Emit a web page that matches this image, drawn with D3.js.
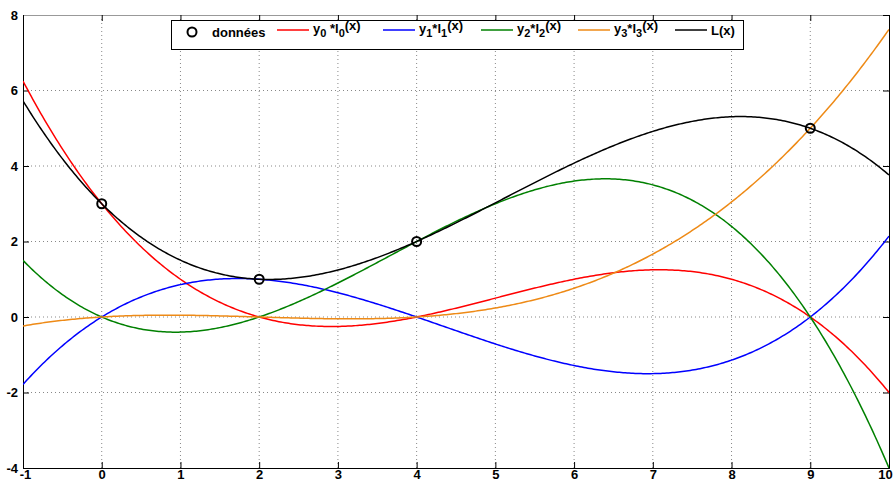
<!DOCTYPE html>
<html>
<head>
<meta charset="utf-8">
<script src="https://cdn.jsdelivr.net/npm/d3@7"></script>
<style>
  body { margin: 0; background: #fff; }
  svg text { font-family: "Liberation Sans", Arial, sans-serif; }
</style>
</head>
<body>
<svg id="chart" width="895" height="484"></svg>
<script>
// Interpolation nodes
const nodeX = [0, 2, 4, 9];
const nodeY = [3, 1, 2, 5];

// Axis ticks
const xTicks = [-1, 0, 1, 2, 3, 4, 5, 6, 7, 8, 9, 10];
const yTicks = [-4, -2, 0, 2, 4, 6, 8];

// Series: one weighted basis polynomial per node, plus their sum L(x)
const seriesColors = ["#ff0000", "#0000ff", "#008000", "#ee8a16"];
const sumColor = "#000000";

const width = 895, height = 484;
const margin = { left: 23, right: 6, top: 15, bottom: 16 };

const svg = d3.select("#chart");
const x = d3.scaleLinear().domain([-1, 10]).range([margin.left, width - margin.right]);
const y = d3.scaleLinear().domain([-4, 8]).range([height - margin.bottom, margin.top]);

// Lagrange basis l_k(x)
function basis(k, t) {
  let v = 1;
  for (let j = 0; j < nodeX.length; j++) {
    if (j !== k) v *= (t - nodeX[j]) / (nodeX[k] - nodeX[j]);
  }
  return v;
}

const samples = d3.range(-1, 10.0001, 0.025);
const curves = nodeX.map((_, k) => samples.map(t => [t, nodeY[k] * basis(k, t)]));
const sumCurve = samples.map((t, i) => [t, d3.sum(curves, c => c[i][1])]);

// Dotted grid
const grid = svg.append("g");
grid.selectAll("line.gx").data(xTicks.slice(1, -1)).join("line")
  .attr("x1", d => x(d)).attr("x2", d => x(d))
  .attr("y1", y(8)).attr("y2", y(-4))
  .attr("stroke", "#888").attr("stroke-width", 1).attr("stroke-dasharray", "1,3");
grid.selectAll("line.gy").data(yTicks.slice(1, -1)).join("line")
  .attr("y1", d => y(d)).attr("y2", d => y(d))
  .attr("x1", x(-1)).attr("x2", x(10))
  .attr("stroke", "#888").attr("stroke-width", 1).attr("stroke-dasharray", "1,3");

// Axes (bottom/left with labels, top/right as inner ticks only)
const fmt = d => String(d);
const axB = svg.append("g").attr("transform", `translate(0,${y(-4)})`)
  .call(d3.axisBottom(x).tickValues(xTicks).tickSize(-6).tickPadding(3).tickFormat(fmt));
const axL = svg.append("g").attr("transform", `translate(${x(-1)},0)`)
  .call(d3.axisLeft(y).tickValues(yTicks).tickSize(-6).tickPadding(5).tickFormat(fmt));
const axT = svg.append("g").attr("transform", `translate(0,${y(8)})`)
  .call(d3.axisTop(x).tickValues(xTicks).tickSize(-6).tickFormat(""));
const axR = svg.append("g").attr("transform", `translate(${x(10)},0)`)
  .call(d3.axisRight(y).tickValues(yTicks).tickSize(-6).tickFormat(""));
[axB, axL, axT, axR].forEach(a => {
  a.select(".domain").attr("stroke", "#000");
  a.selectAll(".tick line").attr("stroke", "#000");
  a.selectAll("text").attr("font-size", 13).attr("fill", "#000")
    .style("font-family", "Liberation Sans, Arial, sans-serif").style("font-weight", "bold");
});
axT.select(".domain").attr("stroke", "#999");
axB.selectAll("text").attr("dy", "0.6em");
axB.selectAll(".tick text").filter(d => d === 10).attr("dx", -4);
axB.selectAll(".tick text").filter(d => d === -1).attr("dx", 2);

// Curves
const line = d3.line().x(d => x(d[0])).y(d => y(d[1]));
svg.append("clipPath").attr("id", "plotclip").append("rect")
  .attr("x", x(-1)).attr("y", y(8)).attr("width", x(10) - x(-1)).attr("height", y(-4) - y(8));
const plot = svg.append("g").attr("clip-path", "url(#plotclip)");
curves.forEach((c, k) => {
  plot.append("path").datum(c).attr("d", line)
    .attr("fill", "none").attr("stroke", seriesColors[k]).attr("stroke-width", 1.5);
});
plot.append("path").datum(sumCurve).attr("d", line)
  .attr("fill", "none").attr("stroke", sumColor).attr("stroke-width", 1.5);

// Node markers
svg.selectAll("circle.node").data(nodeX.map((d, i) => [d, nodeY[i]])).join("circle")
  .attr("cx", d => x(d[0])).attr("cy", d => y(d[1])).attr("r", 4.5)
  .attr("fill", "none").attr("stroke", "#000").attr("stroke-width", 2);

// Legend
const lg = svg.append("g").style("font-weight", "bold");
lg.append("rect").attr("x", 171.5).attr("y", 20.5).attr("width", 572).attr("height", 29)
  .attr("fill", "#fff").attr("stroke", "#000").attr("stroke-width", 1);
lg.append("circle").attr("cx", 192).attr("cy", 32).attr("r", 4.5)
  .attr("fill", "none").attr("stroke", "#000").attr("stroke-width", 2);
lg.append("text").attr("x", 212).attr("y", 37).attr("font-size", 13).text("données");

const legendItems = [
  { x0: 277, color: seriesColors[0], k: 0, gap: true },
  { x0: 383, color: seriesColors[1], k: 1 },
  { x0: 481, color: seriesColors[2], k: 2 },
  { x0: 578, color: seriesColors[3], k: 3 }
];
legendItems.forEach(it => {
  lg.append("line").attr("x1", it.x0).attr("x2", it.x0 + 32).attr("y1", 30).attr("y2", 30)
    .attr("stroke", it.color).attr("stroke-width", 1.5);
  const t = lg.append("text").attr("x", it.x0 + 36).attr("y", 33).attr("font-size", 13);
  t.append("tspan").text("y");
  t.append("tspan").attr("dy", 4).attr("font-size", 11).text(it.k);
  t.append("tspan").attr("dy", -4).text(it.gap ? "  *" : "*");
  t.append("tspan").text("l");
  t.append("tspan").attr("dy", 4).attr("font-size", 11).text(it.k);
  t.append("tspan").attr("dy", -7).text("(x)");
});
lg.append("line").attr("x1", 675).attr("x2", 707).attr("y1", 30).attr("y2", 30)
  .attr("stroke", sumColor).attr("stroke-width", 1.5);
lg.append("text").attr("x", 711).attr("y", 35).attr("font-size", 13).text("L(x)");
</script>
</body>
</html>
